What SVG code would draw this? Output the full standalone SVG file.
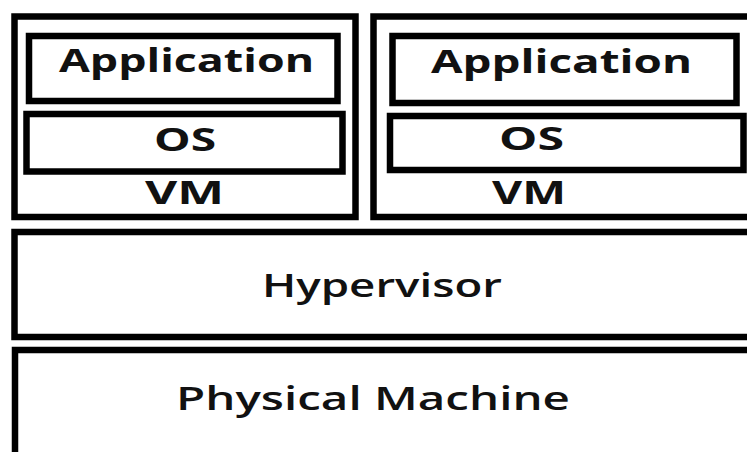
<svg xmlns="http://www.w3.org/2000/svg" width="747" height="452" viewBox="0 0 747 452">
<style>
.box{fill:none;stroke:#000;stroke-width:6.5}
.lbl{font-family:"Open Sans","Liberation Sans",sans-serif;font-size:33px;fill:#111;font-weight:600}
.b{font-weight:700}
</style>
<rect x="0" y="0" width="747" height="452" fill="#fff"/>
<g id="vm1">
<rect class="box" x="14.5" y="16.5" width="341" height="200.5"/>
<text class="lbl b" transform="translate(145,204) scale(1.45,1)" textLength="54.5" lengthAdjust="spacingAndGlyphs">VM</text>
</g>
<g id="app1">
<rect class="box" x="29" y="36" width="308.5" height="65"/>
<text class="lbl b" transform="translate(59,72) scale(1.45,1)" textLength="175.9" lengthAdjust="spacingAndGlyphs">Application</text>
</g>
<g id="os1">
<rect class="box" x="26.5" y="114" width="316" height="57.5"/>
<text class="lbl b" transform="translate(154,151) scale(1.45,1)" textLength="42.8" lengthAdjust="spacingAndGlyphs">OS</text>
</g>
<g id="vm2">
<rect class="box" x="373.5" y="16.5" width="400" height="200.5"/>
<text class="lbl b" transform="translate(492,204) scale(1.45,1)" textLength="51" lengthAdjust="spacingAndGlyphs">VM</text>
</g>
<g id="app2">
<rect class="box" x="392.5" y="36" width="344" height="67"/>
<text class="lbl b" transform="translate(431,73) scale(1.45,1)" textLength="180" lengthAdjust="spacingAndGlyphs">Application</text>
</g>
<g id="os2">
<rect class="box" x="390" y="116" width="353.5" height="54"/>
<text class="lbl b" transform="translate(499,150) scale(1.45,1)" textLength="44.8" lengthAdjust="spacingAndGlyphs">OS</text>
</g>
<g id="hypervisor">
<rect class="box" x="14.5" y="232" width="760" height="105"/>
<text class="lbl" transform="translate(262,297) scale(1.45,1)" textLength="165.5" lengthAdjust="spacingAndGlyphs">Hypervisor</text>
</g>
<g id="physical">
<rect class="box" x="15" y="350" width="760" height="130"/>
<text class="lbl" transform="translate(176,410) scale(1.45,1)" textLength="271.7" lengthAdjust="spacingAndGlyphs">Physical Machine</text>
</g>
<g id="connectors"/>
</svg>
